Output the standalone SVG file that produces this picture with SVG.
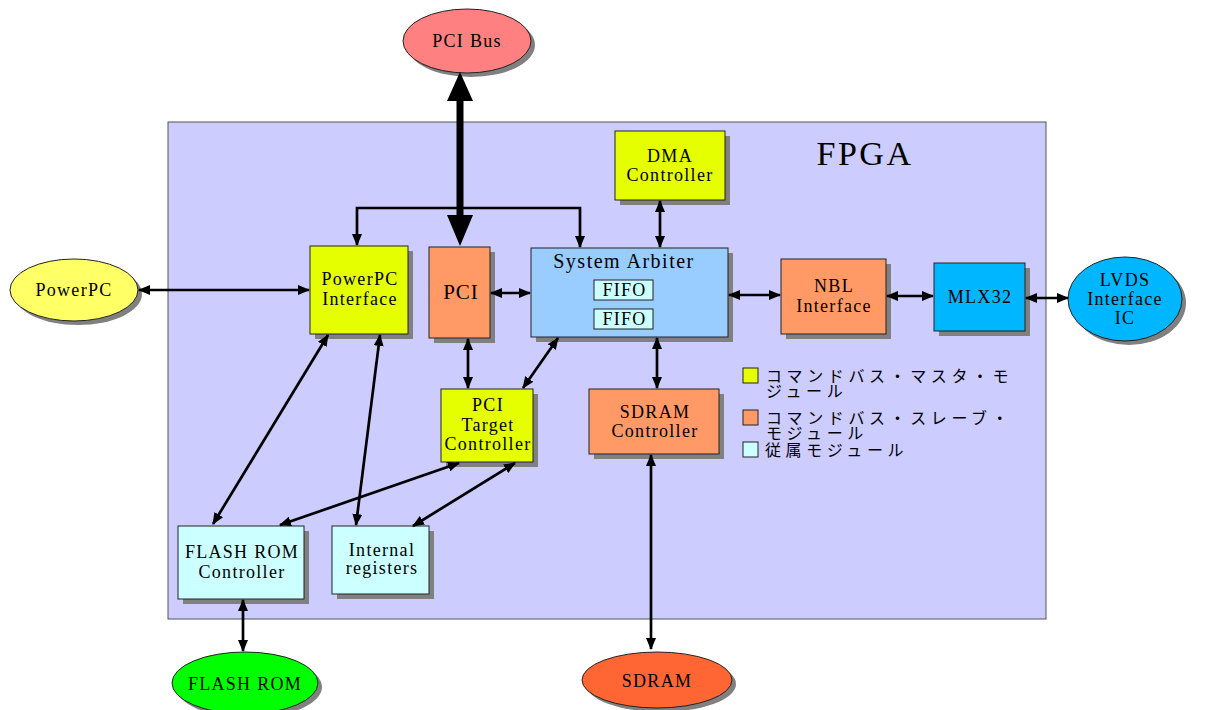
<svg xmlns="http://www.w3.org/2000/svg" width="1219" height="710" viewBox="0 0 1219 710">
<defs>
<style>
.sh{fill:#808080}
.bx{stroke:#222;stroke-width:1}
.y{fill:#e5ff00}
.o{fill:#ff9966}
.b{fill:#99ccff}
.c{fill:#ccffff}
.m{fill:#00b7ff}
text{font-family:"Liberation Serif","Times New Roman",serif;font-size:18px;letter-spacing:1.3px;fill:#000;text-anchor:middle}
.jp{font-family:"Noto Sans CJK JP","Noto Sans",sans-serif;font-size:16px;text-anchor:start;letter-spacing:4.6px}
.ln{stroke:#000;stroke-width:2.7;fill:none;marker-start:url(#ah);marker-end:url(#ah)}
</style>
<marker id="ah" markerUnits="userSpaceOnUse" markerWidth="12" markerHeight="10" refX="11" refY="5" orient="auto-start-reverse" viewBox="0 0 12 10">
<path d="M0,0 L12,5 L0,10 z" fill="#000"/>
</marker>
<marker id="ae" markerUnits="userSpaceOnUse" markerWidth="12" markerHeight="10" refX="11" refY="5" orient="auto" viewBox="0 0 12 10">
<path d="M0,0 L12,5 L0,10 z" fill="#000"/>
</marker>
</defs>
<rect width="1219" height="710" fill="#fff"/>

<g id="fpga">
<rect x="168" y="122" width="878" height="497" fill="#ccccff" stroke="#555" stroke-width="1"/>
<text x="865" y="165" style="font-size:34px;letter-spacing:2.5px">FPGA</text>
</g>

<g id="pcibus">
<ellipse cx="471" cy="45" rx="64" ry="32" class="sh"/>
<ellipse cx="467" cy="41" rx="64" ry="32" fill="#ff8080" stroke="#222"/>
<text x="467" y="47">PCI Bus</text>
</g>

<g id="powerpc">
<ellipse cx="78" cy="294" rx="64" ry="31" class="sh"/>
<ellipse cx="74" cy="290" rx="64" ry="31" fill="#ffff66" stroke="#222"/>
<text x="74" y="296">PowerPC</text>
</g>

<g id="lvds">
<ellipse cx="1129" cy="303" rx="57" ry="42" class="sh"/>
<ellipse cx="1125" cy="299" rx="57" ry="42" fill="#00b7ff" stroke="#222"/>
<text x="1125" y="286">LVDS</text>
<text x="1125" y="305">Interface</text>
<text x="1125" y="324">IC</text>
</g>

<g id="flashrom">
<ellipse cx="249" cy="687" rx="73" ry="31" class="sh"/>
<ellipse cx="245" cy="683" rx="73" ry="31" fill="#00ff00" stroke="#222"/>
<text x="245" y="690">FLASH ROM</text>
</g>

<g id="sdram">
<ellipse cx="661" cy="684" rx="75" ry="28" class="sh"/>
<ellipse cx="657" cy="680" rx="75" ry="28" fill="#ff6633" stroke="#222"/>
<text x="657" y="687">SDRAM</text>
</g>

<g id="dma">
<rect x="620" y="136" width="110" height="69" class="sh"/>
<rect x="615" y="131" width="110" height="69" class="bx y"/>
<text x="670" y="162">DMA</text>
<text x="670" y="181">Controller</text>
</g>

<g id="ppcif">
<rect x="315" y="251" width="98" height="88" class="sh"/>
<rect x="310" y="246" width="98" height="88" class="bx y"/>
<text x="360" y="285">PowerPC</text>
<text x="360" y="305">Interface</text>
</g>

<g id="pci">
<rect x="434" y="252" width="61" height="91" class="sh"/>
<rect x="429" y="247" width="61" height="91" class="bx o"/>
<text x="461" y="299" style="font-size:21px;letter-spacing:1px">PCI</text>
</g>

<g id="arbiter">
<rect x="536" y="253" width="197" height="89" class="sh"/>
<rect x="531" y="248" width="197" height="89" class="bx b"/>
<text x="624" y="268" style="font-size:20px;letter-spacing:1.5px">System Arbiter</text>
<rect x="594" y="280" width="59" height="20" class="bx c"/>
<text x="624.5" y="296">FIFO</text>
<rect x="594" y="309" width="59" height="20" class="bx c"/>
<text x="624.5" y="325">FIFO</text>
</g>

<g id="nbl">
<rect x="786" y="264" width="105" height="75" class="sh"/>
<rect x="781" y="259" width="105" height="75" class="bx o"/>
<text x="834" y="292">NBL</text>
<text x="834" y="312">Interface</text>
</g>

<g id="mlx32">
<rect x="939" y="268" width="91" height="68" class="sh"/>
<rect x="934" y="263" width="91" height="68" class="bx m"/>
<text x="980" y="303">MLX32</text>
</g>

<g id="pcitarget">
<rect x="446" y="394" width="92" height="73" class="sh"/>
<rect x="441" y="389" width="92" height="73" class="bx y"/>
<text x="488" y="411">PCI</text>
<text x="488" y="431">Target</text>
<text x="488" y="450">Controller</text>
</g>

<g id="sdramctrl">
<rect x="594" y="394" width="130" height="65" class="sh"/>
<rect x="589" y="389" width="130" height="65" class="bx o"/>
<text x="655" y="418">SDRAM</text>
<text x="655" y="437">Controller</text>
</g>

<g id="flashctrl">
<rect x="183" y="531" width="126" height="73" class="sh"/>
<rect x="178" y="526" width="126" height="73" class="bx c"/>
<text x="242" y="558">FLASH ROM</text>
<text x="242" y="578">Controller</text>
</g>

<g id="intregs">
<rect x="337" y="531" width="97" height="68" class="sh"/>
<rect x="332" y="526" width="97" height="68" class="bx c"/>
<text x="382" y="556">Internal</text>
<text x="382" y="574">registers</text>
</g>

<g id="legend">
<rect x="743" y="368" width="15" height="15" class="bx y"/>
<text class="jp" x="766" y="382">コマンドバス・マスタ・モ<tspan x="766" y="397">ジュール</tspan></text>
<rect x="743" y="410" width="15" height="15" class="bx o"/>
<text class="jp" x="766" y="424">コマンドバス・スレーブ・<tspan x="766" y="439">モジュール</tspan></text>
<rect x="743" y="442" width="15" height="15" class="bx c"/>
<text class="jp" x="765" y="456">従属モジュール</text>
</g>

<g id="connectors">
<line x1="460" y1="98" x2="460" y2="218" stroke="#000" stroke-width="7"/>
<polygon points="460,72 447,101 473,101" fill="#000"/>
<polygon points="460,246 447,215 473,215" fill="#000"/>
<polyline points="357,236 357,208 580,208 580,237" stroke="#000" stroke-width="2.7" fill="none"/>
<line x1="357" y1="235" x2="357" y2="245" stroke="#000" stroke-width="2.7" marker-end="url(#ae)"/>
<line x1="580" y1="236" x2="580" y2="247" stroke="#000" stroke-width="2.7" marker-end="url(#ae)"/>
<line class="ln" x1="139" y1="290" x2="309" y2="290"/>
<line class="ln" x1="491" y1="293" x2="530" y2="293"/>
<line class="ln" x1="660" y1="201" x2="660" y2="247"/>
<line class="ln" x1="729" y1="295" x2="780" y2="295"/>
<line class="ln" x1="887" y1="296" x2="933" y2="296"/>
<line class="ln" x1="1026" y1="298" x2="1068" y2="298"/>
<line class="ln" x1="468" y1="339" x2="468" y2="388"/>
<line class="ln" x1="558" y1="338" x2="523" y2="388"/>
<line class="ln" x1="657" y1="338" x2="657" y2="388"/>
<line class="ln" x1="651" y1="455" x2="651" y2="649"/>
<line class="ln" x1="328" y1="335" x2="213" y2="524"/>
<line class="ln" x1="380" y1="335" x2="356" y2="525"/>
<line class="ln" x1="459" y1="463" x2="280" y2="525"/>
<line class="ln" x1="515" y1="463" x2="413" y2="526"/>
<line class="ln" x1="243" y1="600" x2="243" y2="651"/>
</g>
</svg>
